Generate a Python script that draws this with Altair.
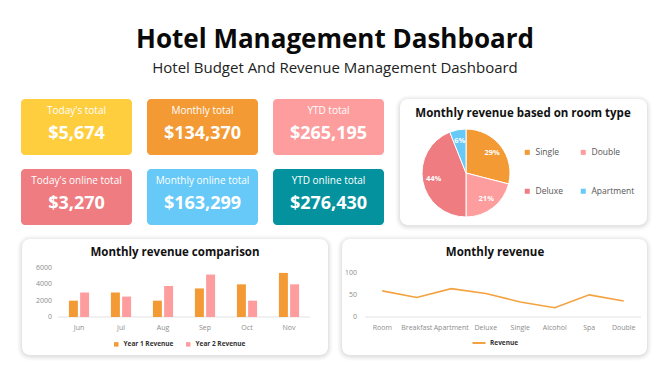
import altair as alt
import pandas as pd

FONT = "Open Sans"

# ---------------- data ----------------
kpi_labels = ["Today's total", "Monthly total", "YTD total",
              "Today's online total", "Monthly online total", "YTD online total"]
kpi_values = ["$5,674", "$134,370", "$265,195", "$3,270", "$163,299", "$276,430"]
kpi_col = [0, 1, 2, 0, 1, 2]
kpi_row = [0, 0, 0, 1, 1, 1]
kpi_colors = ["#FECE3F", "#F39A34", "#FD9D9E", "#EE7C81", "#66C9F8", "#04939E"]

room_types = ["Single", "Double", "Deluxe", "Apartment"]
room_share = [29, 21, 44, 6]
room_colors = ["#F39A34", "#FD9D9E", "#EE7C81", "#66C9F8"]

months = ["Jun", "Jul", "Aug", "Sep", "Oct", "Nov"]
year1 = [2000, 3000, 2000, 3500, 4000, 5400]
year2 = [3000, 2500, 3800, 5200, 2000, 4000]
bar_series = ["Year 1 Revenue", "Year 2 Revenue"]
bar_colors = ["#F39A34", "#FD9D9E"]
bar_ticks = [0, 2000, 4000, 6000]

items = ["Room", "Breakfast", "Apartment", "Deluxe", "Single", "Alcohol", "Spa", "Double"]
revenue = [59, 44, 64, 53, 34, 21, 50, 36]
line_ticks = [0, 50, 100]

one = pd.DataFrame({"k": [0]})
AXIS_GRAY = "#8c8c8c"


def box(x1, y1, x2, y2, fill, r, op=1.0):
    return alt.Chart(one).mark_rect(fill=fill, cornerRadius=r, fillOpacity=op).encode(
        x=alt.value(x1), x2=alt.value(x2), y=alt.value(y1), y2=alt.value(y2))


def label(txt, x, y, size, weight="normal", color="#111111"):
    return alt.Chart(one).mark_text(font=FONT, fontSize=size, fontWeight=weight, color=color,
                                    align="center", baseline="middle").encode(
        x=alt.value(x), y=alt.value(y), text=alt.value(txt))


def card(x1, y1, x2, y2):
    out = []
    for e, a in [(5, 0.012), (4, 0.016), (3, 0.02), (2, 0.025), (1, 0.03)]:
        out.append(box(x1 - e, y1 - e + 1, x2 + e, y2 + e + 1, "#000000", 8 + e, a))
    out.append(box(x1, y1, x2, y2, "#ffffff", 8))
    return out


# ---------------- header ----------------
header = [
    label("Hotel Management Dashboard", 327, 32, 26, "bold", "#0a0a0a"),
    label("Hotel Budget And Revenue Management Dashboard", 327, 60, 15, "normal", "#222222"),
]

# ---------------- KPI cards ----------------
kpi_df = pd.DataFrame({"label": kpi_labels, "value": kpi_values, "col": kpi_col, "row": kpi_row})
kx = alt.X("col:O", scale=alt.Scale(domain=[0, 1, 2], range=[13, 376],
                                    paddingInner=15 / 126, paddingOuter=0), axis=None)
ky = alt.Y("row:O", scale=alt.Scale(domain=[0, 1], range=[91, 217],
                                    paddingInner=0.2, paddingOuter=0), axis=None)
kbase = alt.Chart(kpi_df).encode(x=kx, y=ky)
kpi = alt.layer(
    kbase.mark_rect(cornerRadius=4).encode(
        color=alt.Color("label:N", scale=alt.Scale(domain=kpi_labels, range=kpi_colors), legend=None)),
    kbase.mark_text(dy=-16, fontSize=10, color="white", font=FONT).encode(text="label:N"),
    kbase.mark_text(dy=7, fontSize=18, fontWeight="bold", color="white", font=FONT).encode(text="value:N"),
)

# ---------------- pie ----------------
pie_df = pd.DataFrame({"room": room_types, "share": room_share, "idx": list(range(len(room_types)))})
pbase = alt.Chart(pie_df).encode(
    theta=alt.Theta("share:Q", stack=True),
    order=alt.Order("idx:Q", sort="ascending"),
    x=alt.value(458), y=alt.value(165),
)
pie = alt.layer(
    pbase.mark_arc(radius=44, stroke="white", strokeWidth=1).encode(
        color=alt.Color("room:N", sort=room_types,
                        scale=alt.Scale(domain=room_types, range=room_colors),
                        legend=alt.Legend(orient="none", legendX=515, legendY=140, columns=2,
                                          direction="horizontal",
                                          title=None, symbolType="square", symbolSize=25,
                                          symbolStrokeWidth=0, labelFontSize=8.5, labelFont=FONT,
                                          labelColor="#555555", labelOffset=4, columnPadding=15,
                                          rowPadding=30, padding=0))),
    pbase.transform_calculate(lbl="datum.share + '%'").mark_text(
        radius=33, fontSize=7.5, fontWeight="bold", color="white", font=FONT).encode(
        text="lbl:N", detail="room:N"),
)

# ---------------- bar chart ----------------
bar_df = pd.DataFrame({
    "month": months * 2,
    "series": [bar_series[0]] * len(months) + [bar_series[1]] * len(months),
    "value": year1 + year2,
})
bx = alt.X("month:N", sort=months, scale=alt.Scale(range=[50, 302], paddingInner=0.52, paddingOuter=0.26),
           axis=None)
by_scale = alt.Scale(domain=[0, 6000], range=[309, 260])
bar = alt.layer(
    alt.Chart(one).mark_rule(color="#e3e3e3", strokeWidth=1).encode(
        x=alt.value(50), x2=alt.value(302), y=alt.Y(datum=0, scale=by_scale, axis=None)),
    alt.Chart(bar_df).mark_bar().encode(
        x=bx,
        xOffset=alt.XOffset("series:N", scale=alt.Scale(paddingInner=0.2)),
        y=alt.Y("value:Q", scale=by_scale, axis=None),
        color=alt.Color("series:N", scale=alt.Scale(domain=bar_series, range=bar_colors),
                        legend=alt.Legend(orient="none", legendX=105, legendY=333, direction="horizontal",
                                          title=None, symbolType="square", symbolSize=20,
                                          symbolStrokeWidth=0, labelFontSize=6.5, labelFont=FONT,
                                          labelFontWeight="bold", labelColor="#333333",
                                          labelOffset=4, columnPadding=11, padding=0))),
    alt.Chart(pd.DataFrame({"month": months})).mark_text(
        fontSize=7, color=AXIS_GRAY, font=FONT, baseline="middle").encode(
        x=bx, y=alt.value(320), text="month:N"),
    alt.Chart(pd.DataFrame({"t": bar_ticks})).mark_text(
        fontSize=7, color=AXIS_GRAY, font=FONT, align="right", baseline="middle").encode(
        x=alt.value(44), y=alt.Y("t:Q", scale=by_scale, axis=None), text=alt.Text("t:Q", format="d")),
)

# ---------------- line chart ----------------
line_df = pd.DataFrame({"item": items, "revenue": revenue, "series": ["Revenue"] * len(items)})
lx = alt.X("item:N", sort=items, scale=alt.Scale(type="point", range=[357, 633], padding=0.5), axis=None)
ly_scale = alt.Scale(domain=[0, 100], range=[309, 264.7])
line = alt.layer(
    alt.Chart(one).mark_rule(color="#e3e3e3", strokeWidth=1).encode(
        x=alt.value(357), x2=alt.value(633), y=alt.Y(datum=0, scale=ly_scale, axis=None)),
    alt.Chart(line_df).mark_line(strokeWidth=1.6).encode(
        x=lx, y=alt.Y("revenue:Q", scale=ly_scale, axis=None),
        color=alt.Color("series:N", scale=alt.Scale(domain=["Revenue"], range=["#F4A23F"]),
                        legend=alt.Legend(orient="none", legendX=463, legendY=327, title=None,
                                          symbolType="stroke", symbolSize=170, symbolStrokeWidth=2,
                                          labelFontSize=6.5, labelFont=FONT, labelFontWeight="bold",
                                          labelColor="#333333", labelOffset=3, padding=0))),
    alt.Chart(pd.DataFrame({"item": items})).mark_text(
        fontSize=7, color=AXIS_GRAY, font=FONT, baseline="middle").encode(
        x=lx, y=alt.value(320), text="item:N"),
    alt.Chart(pd.DataFrame({"t": line_ticks})).mark_text(
        fontSize=7, color=AXIS_GRAY, font=FONT, align="right", baseline="middle").encode(
        x=alt.value(349), y=alt.Y("t:Q", scale=ly_scale, axis=None), text=alt.Text("t:Q", format="d")),
)

layers = []
layers += card(392, 91, 639, 217)
layers += card(14, 231, 320, 347)
layers += card(334, 231, 639, 347)
layers += header
layers += [
    label("Monthly revenue based on room type", 515, 106, 11.5, "bold"),
    label("Monthly revenue comparison", 167, 245, 11.5, "bold"),
    label("Monthly revenue", 487, 245, 11.5, "bold"),
]
layers += [kpi, pie, bar, line]

chart = alt.layer(*layers).resolve_scale(
    x="independent", y="independent", color="independent", theta="independent"
).properties(
    width=654, height=360, autosize=alt.AutoSizeParams(type="none"), padding=0, background="white"
).configure_view(stroke=None)

chart.save("out.html", embed_options={"renderer": "svg", "actions": False})
